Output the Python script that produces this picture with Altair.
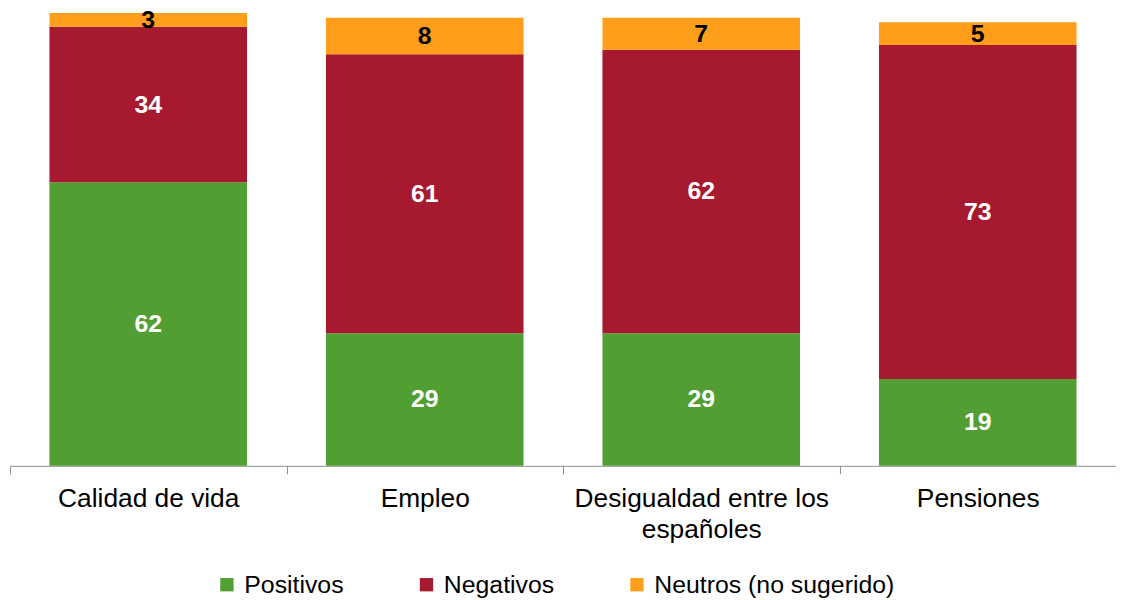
import altair as alt
import pandas as pd

categories = ["Calidad de vida", "Empleo", "Desigualdad entre los españoles", "Pensiones"]
series = ["Positivos", "Negativos", "Neutros (no sugerido)"]
positivos = [62, 29, 29, 19]
negativos = [34, 61, 62, 73]
neutros = [3, 8, 7, 5]
colors = ["#519E33", "#A6192E", "#FF9E1B"]

rows = []
for i, c in enumerate(categories):
    for j, (s, vals) in enumerate(zip(series, [positivos, negativos, neutros])):
        rows.append({"cat": c, "serie": s, "value": vals[i], "ord": j})
df = pd.DataFrame(rows)

FONT = "Liberation Sans"

xaxis = alt.Axis(
    tickBand="extent",
    labelAngle=0,
    labelFont=FONT,
    labelFontSize=26.5,
    labelColor="#000000",
    labelPadding=12,
    labelLineHeight=31,
    labelLimit=400,
    labelExpr="datum.value == 'Desigualdad entre los españoles' ? ['Desigualdad entre los', 'españoles'] : datum.value",
    domainColor="#8c8c8c",
    tickColor="#8c8c8c",
    tickSize=8,
    grid=False,
)
xscale = alt.Scale(paddingInner=0, paddingOuter=0)
yscale = alt.Scale(domain=[0, 99], nice=False)

base = alt.Chart(df).transform_stack(
    stack="value", groupby=["cat"], as_=["v0", "v1"], sort=[alt.SortField("ord", order="ascending")]
)

bars = base.mark_bar(size=199).encode(
    x=alt.X("cat:N", sort=categories, title=None, scale=xscale, axis=xaxis),
    y=alt.Y("v0:Q", scale=yscale, axis=None),
    y2="v1:Q",
    color=alt.Color(
        "serie:N",
        sort=series,
        scale=alt.Scale(domain=series, range=colors),
        legend=alt.Legend(
            title=None,
            orient="none",
            legendX=206,
            legendY=563,
            direction="horizontal",
            symbolType="square",
            symbolSize=180,
            symbolStrokeWidth=0,
            labelFont=FONT,
            labelFontSize=25,
            labelColor="#000000",
            labelOffset=5,
            columnPadding=70,
            labelLimit=400,
        ),
    ),
)

labels = base.transform_calculate(mid="(datum.v0 + datum.v1) / 2").mark_text(
    font=FONT, fontSize=25, fontWeight="bold", baseline="middle", align="center"
).encode(
    x=alt.X("cat:N", sort=categories, title=None, scale=xscale, axis=xaxis),
    y=alt.Y("mid:Q", scale=yscale, axis=None),
    text=alt.Text("value:Q"),
    color=alt.condition(
        alt.datum.serie == "Neutros (no sugerido)", alt.value("#000000"), alt.value("#FFFFFF")
    ),
)

chart = (
    alt.layer(bars, labels)
    .properties(
        width=1114,
        height=456,
        background="#FFFFFF",
        padding={"left": 2, "top": 3, "right": 0, "bottom": 133},
        autosize=alt.AutoSizeParams(type="none"),
    )
    .configure_view(stroke="transparent", strokeWidth=0)
)

chart.save("out.html", embed_options={"renderer": "svg", "actions": False})
